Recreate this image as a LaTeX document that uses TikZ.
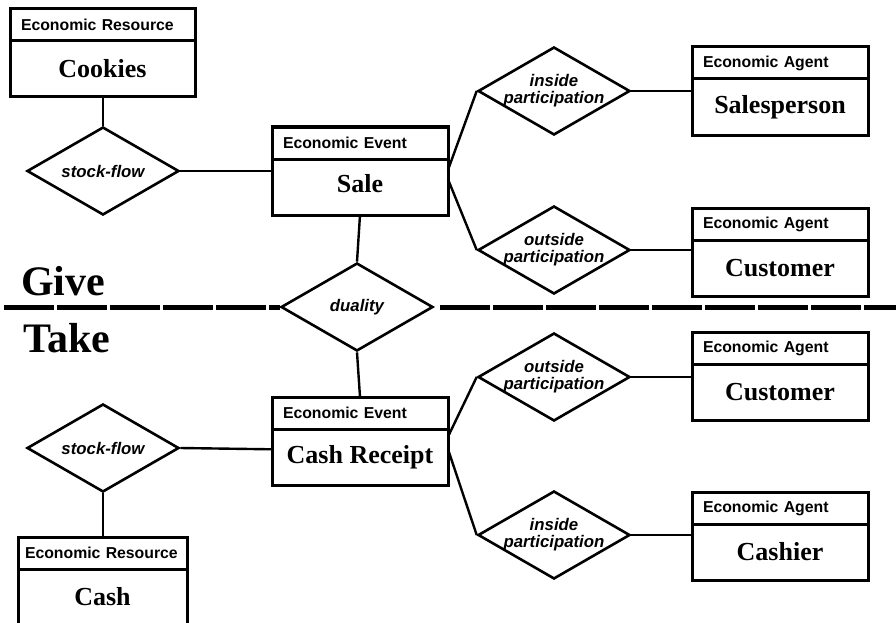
\documentclass[tikz,border=0pt]{standalone}
\usepackage{fontspec}
\setmainfont{Liberation Serif}
\setsansfont{Liberation Sans}
\usetikzlibrary{positioning,shapes.geometric}

\begin{document}
\begin{tikzpicture}[
    x=1pt, y=-1pt,
    head/.style={draw, line width=3pt, outer sep=0pt, text width=#1, inner xsep=11pt,
                 minimum height=32pt, anchor=north west, align=left,
                 font=\sffamily\bfseries\fontsize{15.8}{18}\selectfont},
    head/.default=154pt,
    body/.style={draw, line width=3pt, outer sep=0pt, minimum width=#1, minimum height=56pt,
                 inner sep=0pt, font=\bfseries\fontsize{26}{30}\selectfont},
    body/.default=176pt,
    rel/.style={diamond, draw, line width=2.6pt, minimum width=152pt, minimum height=88pt,
                inner sep=0pt, label={[rtext]center:#1}},
    rtext/.style={align=center, font=\sffamily\bfseries\itshape\fontsize{16.8}{17}\selectfont},
    link/.style={line width=2.4pt},
    split/.style={line width=5pt, dash pattern=on 50pt off 3pt},
    side/.style={anchor=base west, inner sep=0pt, font=\bfseries\fontsize{42}{46}\selectfont},
]
\clip (0,0) rectangle (896,623);

% resources
\node[head=163pt] (cookiesH) at (10,9) {Economic Resource};
\node[body=185pt, below=0pt of cookiesH] (cookies) {Cookies};
\node[head=155pt, inner xsep=7pt] (cashH) at (18,537) {Economic Resource};
\node[body=169pt, below=0pt of cashH] (cash) {Cash};

% events
\node[head] (saleH) at (272,127) {Economic Event};
\node[body, below=0pt of saleH] (sale) {\raisebox{7pt}{Sale}};
\node[head] (crH) at (272,397) {Economic Event};
\node[body, below=0pt of crH] (cr) {\raisebox{6pt}{Cash Receipt}};

% agents
\node[head] (salespH) at (692,47) {Economic Agent};
\node[body, below=0pt of salespH] (salesp) {Salesperson};
\node[head] (cust1H) at (692,208) {Economic Agent};
\node[body, below=0pt of cust1H] (cust1) {Customer};
\node[head] (cust2H) at (692,332) {Economic Agent};
\node[body, below=0pt of cust2H] (cust2) {Customer};
\node[head] (cashierH) at (692,492) {Economic Agent};
\node[body, below=0pt of cashierH] (cashier) {Cashier};

% relationships
\node[rel=stock-flow] (sf1) at (103,171) {};
\node[rel=duality] (dual) at (357,307) {};
\node[rel={inside\\participation}] (ip1) at (554,91) {};
\node[rel={outside\\participation}] (op1) at (554,250) {};
\node[rel={outside\\participation}] (op2) at (554,377) {};
\node[rel={inside\\participation}] (ip2) at (554,535) {};
\node[rel=stock-flow] (sf2) at (103,448) {};

% give side
\draw[link] (sf1.north |- cookies.south) -- (sf1.north);
\draw[link] (sf1.east) -- (sf1.east -| sale.west);
\draw[link] (sale.south) -- (dual.north);
\draw[link] (sale.11) -- (ip1.west);
\draw[link] (sale.5) -- (op1.west);
\draw[link] (ip1.east) -- (ip1.east -| salesp.west);
\draw[link] (op1.east) -- (op1.east -| cust1.west);

% take side
\draw[link] (dual.south) -- (crH.north);
\draw[link] (cr.13) -- (op2.west);
\draw[link] (cr.5) -- (ip2.west);
\draw[link] (op2.east) -- (op2.east -| cust2.west);
\draw[link] (ip2.east) -- (ip2.east -| cashier.west);
\draw[link] (sf2.east) -- (cr.175);
\draw[link] (sf2.south) -- (sf2.south |- cashH.north);

% give / take border
\node[side] (give) at (21,295) {Give};
\node[side] (take) at (23,352) {Take};
\coordinate (gl) at (4,307);
\coordinate (gr) at (896,307);
\draw[split] (gl) -- (dual.west);
\draw[split] ([xshift=6pt]dual.east) -- (gr);
\end{tikzpicture}
\end{document}
